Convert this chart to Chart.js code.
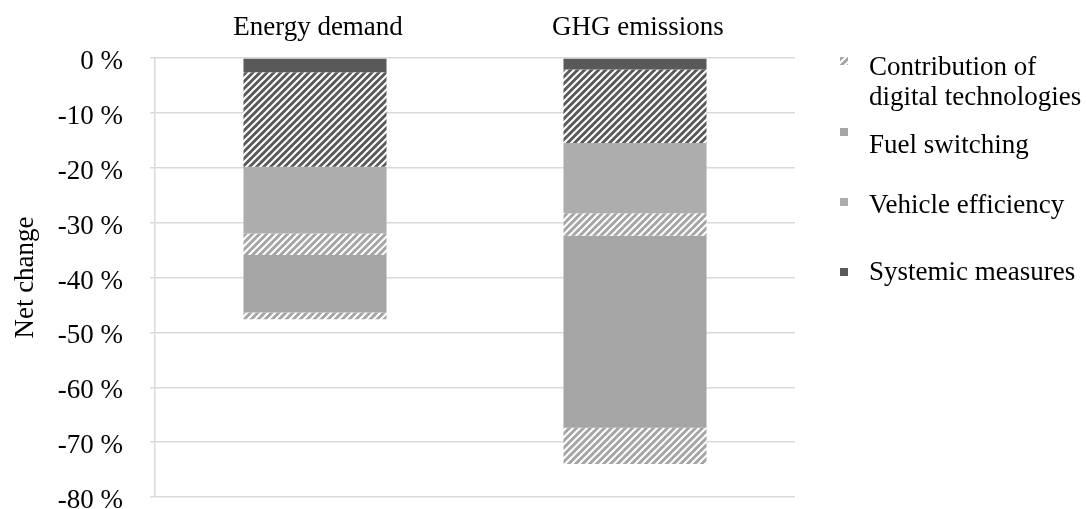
<!DOCTYPE html>
<html>
<head>
<meta charset="utf-8">
<script src="https://cdn.jsdelivr.net/npm/chart.js@4"></script>
<style>
  body { margin: 0; background: #fff; }
</style>
</head>
<body>
<canvas id="netChart" width="1086" height="509"></canvas>
<script>
// categories and stacked contributions (percent, negative = reduction)
const categories = ["Energy demand", "GHG emissions"];
const systemic = [-2.6, -2.1];
const systemicDigital = [-17.2, -13.4];
const vehicle = [-12.2, -12.8];
const vehicleDigital = [-3.9, -4.1];
const fuel = [-10.5, -35.0];
const fuelDigital = [-1.2, -6.6];

const yTicks = [0, -10, -20, -30, -40, -50, -60, -70, -80];

const legendItems = [
    {lines: ["Contribution of", "digital technologies"], hatch: true},
    {lines: ["Fuel switching"], color: "#a5a5a5"},
    {lines: ["Vehicle efficiency"], color: "#adadad"},
    {lines: ["Systemic measures"], color: "#595959"}
];

const DARK = "#595959";
const LIGHT = "#a5a5a5";
const FONT = "'Liberation Serif', 'Times New Roman', serif";

const canvas = document.getElementById("netChart");
const ctx = canvas.getContext("2d");

//diagonal white stripes on a solid base
function hatch(base) {
    const c = document.createElement("canvas");
    c.width = 7;
    c.height = 7;
    const h = c.getContext("2d");
    h.fillStyle = base;
    h.fillRect(0, 0, 7, 7);
    h.strokeStyle = "#fff";
    h.lineWidth = 2;
    h.beginPath();
    h.moveTo(-1, 8); h.lineTo(8, -1);
    h.moveTo(-1, 1); h.lineTo(1, -1);
    h.moveTo(6, 8); h.lineTo(8, 6);
    h.stroke();
    return ctx.createPattern(c, "repeat");
}

const darkHatch = hatch(DARK);
const lightHatch = hatch(LIGHT);

//legend on the right side, drawn by hand
const sideLegend = {
    id: "sideLegend",
    afterDraw(chart) {
        const c = chart.ctx;
        const rows = [[75, 105], [153], [213], [280]];
        const marks = [61, 132, 202, 272];
        c.save();
        c.font = "27px " + FONT;
        c.textBaseline = "alphabetic";
        legendItems.forEach((item, i) => {
            c.fillStyle = item.hatch ? lightHatch : item.color;
            c.fillRect(840, marks[i] - 4, 8, 8);
            c.fillStyle = "#000";
            item.lines.forEach((t, j) => c.fillText(t, 869, rows[i][j]));
        });
        c.restore();
    }
};

const common = {stack: "s", borderWidth: 0};

new Chart(ctx, {
    type: "bar",
    data: {
        labels: categories,
        datasets: [
            {...common, label: "Systemic measures", data: systemic, backgroundColor: DARK},
            {...common, label: "Systemic digital", data: systemicDigital, backgroundColor: darkHatch},
            {...common, label: "Vehicle efficiency", data: vehicle, backgroundColor: "#adadad"},
            {...common, label: "Vehicle digital", data: vehicleDigital, backgroundColor: lightHatch},
            {...common, label: "Fuel switching", data: fuel, backgroundColor: LIGHT},
            {...common, label: "Fuel digital", data: fuelDigital, backgroundColor: lightHatch}
        ]
    },
    options: {
        responsive: false,
        animation: false,
        layout: {padding: {left: 0, right: 291, top: 0, bottom: 12}},
        categoryPercentage: 1,
        barPercentage: 0.447,
        plugins: {
            legend: {display: false},
            tooltip: {enabled: false}
        },
        scales: {
            x: {
                position: "top",
                stacked: true,
                grid: {display: false, drawTicks: false},
                border: {display: false},
                ticks: {
                    padding: 14,
                    labelOffset: 3,
                    color: "#000",
                    font: {family: FONT, size: 27}
                },
                afterFit: s => {
                    s.height = 58;
                    s.paddingLeft = 0;
                    s.paddingRight = 0;
                }
            },
            y: {
                stacked: true,
                min: -80,
                max: 0,
                afterBuildTicks: s => { s.ticks = yTicks.map(v => ({value: v})); },
                grid: {color: "#d9d9d9", lineWidth: 1.5, tickLength: 5},
                border: {color: "#d9d9d9", width: 1.5},
                ticks: {
                    padding: 27,
                    labelOffset: 4,
                    color: "#000",
                    font: {family: FONT, size: 27}
                    , callback: v => v + " %"
                },
                title: {
                    display: true,
                    text: "Net change",
                    color: "#000",
                    padding: {top: 10},
                    font: {family: FONT, size: 27}
                },
                afterFit: s => {
                    s.width = 155;
                    s.paddingTop = 0;
                    s.paddingBottom = 0;
                }
            }
        }
    },
    plugins: [sideLegend]
});
</script>
</body>
</html>
